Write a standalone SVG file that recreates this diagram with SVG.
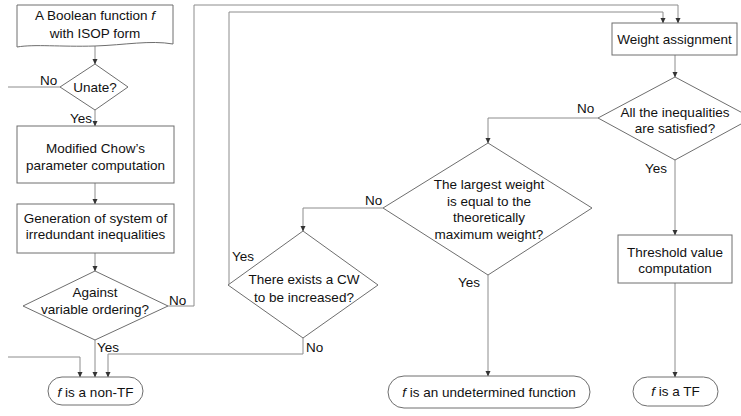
<svg xmlns="http://www.w3.org/2000/svg" width="741" height="416" viewBox="0 0 741 416">
<defs>
<marker id="ah" markerWidth="6" markerHeight="6" refX="5" refY="3" orient="auto" markerUnits="userSpaceOnUse">
<path d="M0,0.5 L5.5,3 L0,5.5 Z" fill="#333"/>
</marker>
<style>
.s{fill:#fff;stroke:#6e6e6e;stroke-width:1}
.c{fill:none;stroke:#8c8c8c;stroke-width:1}
.a{marker-end:url(#ah)}
text{font-family:"Liberation Sans",Arial,sans-serif;font-size:13.5px;fill:#111}
.m{text-anchor:middle}
</style>
</defs>
<rect width="741" height="416" fill="#fff"/>
<g id="connectors">
<path class="c a" d="M95,46 V64"/>
<path class="c" d="M60,87 H8"/>
<path class="c a" d="M95,110 V126"/>
<path class="c a" d="M95,183 V204"/>
<path class="c a" d="M95,253 V271"/>
<path class="c a" d="M168,306 H194 V5 H678 V23"/>
<path class="c a" d="M95,340 V377"/>
<path class="c a" d="M8,357 H80 V377"/>
<path class="c a" d="M303,338 V354 H108 V377"/>
<path class="c a" d="M228,285 H229 V12 H663 V23"/>
<path class="c a" d="M675,55 V77"/>
<path class="c a" d="M598,118 H488 V143"/>
<path class="c a" d="M675,160 V235"/>
<path class="c a" d="M675,283 V377"/>
<path class="c a" d="M383,208 H303 V231"/>
<path class="c a" d="M488,275 V376"/>
<text x="40" y="85">No</text>
<text x="70" y="123">Yes</text>
<text x="169" y="305">No</text>
<text x="97" y="352">Yes</text>
<text x="577" y="113">No</text>
<text x="645" y="173">Yes</text>
<text x="365" y="205">No</text>
<text x="232" y="261">Yes</text>
<text x="458" y="287">Yes</text>
<text x="306" y="352">No</text>
</g>
<g id="start">
<path class="s" d="M17,5 H173 V44 C150,40 125,45 95,46 C60,47 35,44 17,47 Z"/>
<text class="m" x="95" y="20">A Boolean function <tspan font-style="italic">f</tspan></text>
<text class="m" x="95" y="38">with ISOP form</text>
</g>
<g id="unate">
<path class="s" d="M95,64 L128,87 L95,110 L60,87 Z"/>
<text class="m" x="95" y="92">Unate?</text>
</g>
<g id="chow">
<rect class="s" x="17" y="126" width="157" height="57"/>
<text class="m" x="95.5" y="153">Modified Chow’s</text>
<text class="m" x="95.5" y="170">parameter computation</text>
</g>
<g id="gen">
<rect class="s" x="17" y="204" width="157" height="49"/>
<text class="m" x="95.5" y="223">Generation of system of</text>
<text class="m" x="95.5" y="239">irredundant inequalities</text>
</g>
<g id="against">
<path class="s" d="M95,271 L168,306 L95,340 L23,306 Z"/>
<text class="m" x="95" y="297">Against</text>
<text class="m" x="95" y="314">variable ordering?</text>
</g>
<g id="nontf">
<rect class="s" x="48" y="377" width="95" height="28" rx="14"/>
<text class="m" x="95.5" y="397"><tspan font-style="italic">f</tspan> is a non-TF</text>
</g>
<g id="weight">
<rect class="s" x="612" y="23" width="125" height="32"/>
<text class="m" x="674.5" y="44">Weight assignment</text>
</g>
<g id="allsat">
<path class="s" d="M675,77 L752,118 L675,160 L598,118 Z"/>
<text class="m" x="675" y="117">All the inequalities</text>
<text class="m" x="675" y="133">are satisfied?</text>
</g>
<g id="largest">
<path class="s" d="M488,143 L592,208 L488,275 L383,208 Z"/>
<text class="m" x="489" y="189">The largest weight</text>
<text class="m" x="489" y="206">is equal to the</text>
<text class="m" x="489" y="222">theoretically</text>
<text class="m" x="489" y="239">maximum weight?</text>
</g>
<g id="cw">
<path class="s" d="M303,231 L378,285 L303,338 L228,285 Z"/>
<text class="m" x="304" y="284">There exists a CW</text>
<text class="m" x="304" y="302">to be increased?</text>
</g>
<g id="threshold">
<rect class="s" x="618" y="235" width="114" height="48"/>
<text class="m" x="675" y="257">Threshold value</text>
<text class="m" x="675" y="273">computation</text>
</g>
<g id="undetermined">
<rect class="s" x="388" y="376" width="202" height="32" rx="16"/>
<text class="m" x="489" y="397"><tspan font-style="italic">f</tspan> is an undetermined function</text>
</g>
<g id="tf">
<rect class="s" x="633" y="377" width="85" height="29" rx="14.5"/>
<text class="m" x="675.5" y="396"><tspan font-style="italic">f</tspan> is a TF</text>
</g>
</svg>
